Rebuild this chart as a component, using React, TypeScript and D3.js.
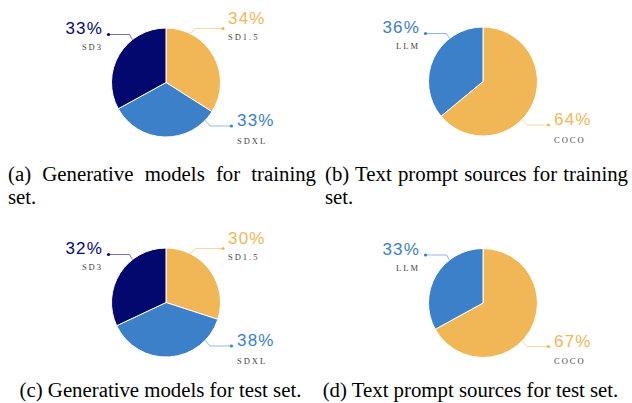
import { useEffect, useRef } from "react";
import * as d3 from "d3";

// shares (%), clockwise from 12 o'clock
const modelNames = ["SD1.5", "SDXL", "SD3"];
const modelTrainShares = [34, 33, 33];
const modelTestShares = [30, 38, 32];
const sourceNames = ["COCO", "LLM"];
const sourceTrainShares = [64, 36];
const sourceTestShares = [67, 33];
const captionLines = [
  ["(a) Generative models for training", "set."],
  ["(b) Text prompt sources for training", "set."],
  ["(c) Generative models for test set."],
  ["(d) Text prompt sources for test set."],
];

const colors: Record<string, string> = {
  "SD1.5": "#F1B757",
  SDXL: "#3B80C8",
  SD3: "#03086F",
  COCO: "#F1B757",
  LLM: "#3B80C8",
};
// where each label sits around its pie
const corner: Record<string, string> = {
  "SD1.5": "tr",
  SDXL: "br",
  SD3: "tl",
  COCO: "br",
  LLM: "tl",
};

export default function App() {
  const svgRef = useRef<SVGSVGElement | null>(null);

  useEffect(() => {
    const width = 632;
    const height = 403;
    const r = 54.5;
    const svg = d3.select(svgRef.current).attr("width", width).attr("height", height);
    svg.selectAll("*").remove();

    const panels = [
      { names: modelNames, values: modelTrainShares, cx: 166, cy: 82.5 },
      { names: sourceNames, values: sourceTrainShares, cx: 483, cy: 81.5 },
      { names: modelNames, values: modelTestShares, cx: 166, cy: 302.5 },
      { names: sourceNames, values: sourceTestShares, cx: 483, cy: 303 },
    ];

    const pie = d3.pie<number>().sort(null).value(d => d);
    const arc = d3.arc<d3.PieArcDatum<number>>().innerRadius(0).outerRadius(r);

    // label geometry per corner, relative to pie centre
    const spots: Record<string, any> = {
      tr: { angle: 26, elbowX: 30, dot: [57, -54], tx: 62, pct: -59, name: -42.5, anchor: "start" },
      tl: { angle: -38, elbowX: -36.5, dot: [-57.5, -48], tx: -63, pct: -48.5, name: -32.5, anchor: "end" },
      br: { angle: 134, elbowX: 44, dot: [65.5, 43.5], tx: 71, pct: 43.5, name: 61, anchor: "start" },
    };

    panels.forEach(p => {
      const g = svg.append("g").attr("transform", `translate(${p.cx},${p.cy})`);
      g.selectAll("path.slice")
        .data(pie(p.values))
        .join("path")
        .attr("class", "slice")
        .attr("d", arc)
        .attr("fill", (_, i) => colors[p.names[i]])
        .attr("stroke", "#fff")
        .attr("stroke-width", 1);

      p.names.forEach((name, i) => {
        const s = spots[corner[name]];
        const col = colors[name];
        const a = (s.angle * Math.PI) / 180;
        const start: [number, number] = [Math.sin(a) * r, -Math.cos(a) * r];
        const line = d3.line()([start, [s.elbowX, s.dot[1]], [s.dot[0], s.dot[1]]]);
        g.append("path")
          .attr("d", line)
          .attr("fill", "none")
          .attr("stroke", col)
          .attr("stroke-opacity", 0.55)
          .attr("stroke-width", 1);
        g.append("circle").attr("cx", s.dot[0]).attr("cy", s.dot[1]).attr("r", 1.6).attr("fill", col);
        g.append("text")
          .attr("x", s.tx)
          .attr("y", s.pct)
          .attr("text-anchor", s.anchor)
          .attr("font-family", "'Liberation Sans', Arial, sans-serif")
          .attr("font-size", 17)
          .attr("letter-spacing", 1.2)
          .attr("fill", col)
          .text(`${p.values[i]}%`);
        g.append("text")
          .attr("x", s.tx)
          .attr("y", s.name)
          .attr("text-anchor", s.anchor)
          .attr("font-family", "'Liberation Serif', 'Times New Roman', serif")
          .attr("font-size", 8.5)
          .attr("letter-spacing", 2)
          .attr("fill", "#444")
          .text(name);
      });
    });

    // captions
    const capFont = "'Liberation Serif', 'Times New Roman', serif";
    const capSize = 20.8;
    const addText = (x: number, y: number, t: string, anchor = "start") =>
      svg
        .append("text")
        .attr("x", x)
        .attr("y", y)
        .attr("text-anchor", anchor)
        .attr("font-family", capFont)
        .attr("font-size", capSize)
        .attr("fill", "#000")
        .text(t);

    // justified first lines of (a) and (b)
    const justified = [
      { x0: 8, x1: 316, lines: captionLines[0] },
      { x0: 325, x1: 628, lines: captionLines[1] },
    ];
    justified.forEach(j => {
      const t = addText(j.x0, 181, j.lines[0]);
      const natural = (t.node() as SVGTextElement).getComputedTextLength();
      const gaps = j.lines[0].split(" ").length - 1;
      t.attr("word-spacing", Math.max(0, (j.x1 - j.x0 - natural) / gaps));
      addText(j.x0, 204, j.lines[1]);
    });
    addText(160.5, 397, captionLines[2][0], "middle");
    addText(470.5, 397, captionLines[3][0], "middle");
  }, []);

  return (
    <div style={{ position: "absolute", left: 0, top: 0, background: "#fff" }}>
      <svg ref={svgRef} style={{ display: "block" }}></svg>
    </div>
  );
}
